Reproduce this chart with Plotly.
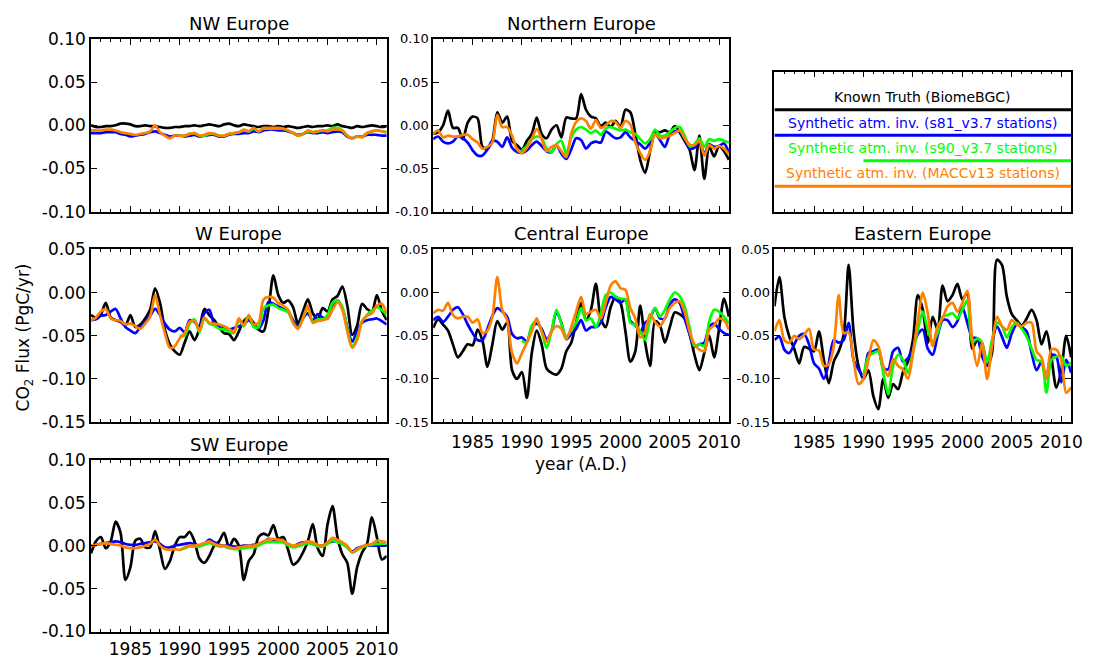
import plotly.graph_objects as go

# Half-yearly time axis shared by every region (years A.D.)
YEARS = [1981.0 + 0.5 * i for i in range(61)]

X_RANGE = [1981, 2011]
X_TICKS = [1985, 1990, 1995, 2000, 2005, 2010]
Y_TICKS_A = [-0.10, -0.05, 0.00, 0.05, 0.10]
Y_TICKS_B = [-0.15, -0.10, -0.05, 0.00, 0.05]

SERIES_NAMES = [
    "Known Truth (BiomeBGC)",
    "Synthetic atm. inv. (s81_v3.7 stations)",
    "Synthetic atm. inv. (s90_v3.7 stations)",
    "Synthetic atm. inv. (MACCv13 stations)",
]
SERIES_COLORS = ["#000000", "#0000ff", "#00ff00", "#ff8000"]
SERIES_START = [1981, 1981, 1990, 1981]
NO_DATA = [None] * 18  # s90 network only available from 1990 on

# ---------------- NW Europe ----------------
NW_TRUTH = [0.000, -0.002, -0.002, -0.001, -0.001, 0.000, 0.002, 0.002, 0.001, -0.001,
            -0.001, 0.000, -0.001, -0.001, -0.002, -0.003, -0.003, -0.002, -0.002, -0.001,
            -0.001, 0.000, -0.001, 0.000, 0.001, 0.000, -0.001, 0.001, 0.002, 0.000,
            -0.001, 0.001, 0.000, -0.001, -0.002, -0.001, -0.001, -0.002, -0.001, -0.002,
            -0.001, -0.002, -0.003, -0.002, -0.001, -0.002, -0.001, -0.001, 0.000, -0.001,
            0.001, -0.001, -0.002, -0.003, -0.001, -0.002, -0.001, 0.000, -0.001, -0.002,
            -0.001]
NW_S81 = [-0.009, -0.009, -0.009, -0.008, -0.008, -0.008, -0.010, -0.011, -0.013, -0.012,
          -0.011, -0.010, -0.008, -0.007, -0.009, -0.011, -0.013, -0.012, -0.012, -0.013,
          -0.012, -0.011, -0.013, -0.012, -0.011, -0.011, -0.013, -0.013, -0.011, -0.010,
          -0.010, -0.009, -0.009, -0.007, -0.008, -0.006, -0.005, -0.005, -0.006, -0.006,
          -0.007, -0.009, -0.011, -0.010, -0.008, -0.009, -0.009, -0.008, -0.009, -0.008,
          -0.007, -0.008, -0.013, -0.015, -0.013, -0.013, -0.011, -0.011, -0.011, -0.012,
          -0.012]
NW_S90 = NO_DATA + [
    -0.012, -0.012,
    -0.010, -0.009, -0.012, -0.012, -0.010, -0.010, -0.012, -0.012, -0.010, -0.009,
    -0.008, -0.006, -0.007, -0.004, -0.007, -0.004, -0.004, -0.004, -0.004, -0.004,
    -0.006, -0.009, -0.012, -0.010, -0.007, -0.008, -0.007, -0.006, -0.006, -0.003,
    -0.003, -0.006, -0.012, -0.015, -0.013, -0.013, -0.009, -0.007, -0.006, -0.007,
    -0.008]
NW_MACC = [-0.006, -0.006, -0.006, -0.005, -0.005, -0.006, -0.008, -0.009, -0.010, -0.011,
           -0.010, -0.009, -0.007, 0.000, -0.008, -0.012, -0.015, -0.012, -0.012, -0.012,
           -0.010, -0.009, -0.012, -0.011, -0.009, -0.010, -0.012, -0.012, -0.010, -0.009,
           -0.008, -0.005, -0.007, -0.003, -0.007, -0.003, -0.003, -0.003, -0.003, -0.004,
           -0.006, -0.009, -0.012, -0.010, -0.006, -0.008, -0.007, -0.006, -0.007, -0.005,
           -0.005, -0.006, -0.012, -0.015, -0.013, -0.014, -0.009, -0.007, -0.006, -0.007,
           -0.008]

# ---------------- Northern Europe ----------------
N_TRUTH = [-0.010, -0.008, 0.000, 0.017, -0.003, -0.003, -0.016, 0.003, 0.010, 0.008,
           -0.025, -0.027, -0.018, 0.015, 0.003, 0.010, -0.018, -0.023, -0.028, -0.018,
           -0.010, 0.009, -0.010, -0.015, -0.005, 0.000, -0.014, 0.009, 0.008, 0.008,
           0.036, 0.018, 0.010, 0.008, -0.001, 0.003, -0.002, 0.005, -0.002, 0.018,
           0.015, -0.010, -0.040, -0.055, -0.030, -0.008, -0.008, -0.006, -0.008, -0.001,
           -0.008, -0.018, -0.028, -0.052, -0.012, -0.062, -0.025, -0.036, -0.024, -0.030,
           -0.040]
N_S81 = [-0.016, -0.013, -0.019, -0.021, -0.019, -0.013, -0.015, -0.020, -0.029, -0.035,
         -0.035, -0.028, -0.018, -0.019, -0.025, -0.014, -0.026, -0.031, -0.032, -0.029,
         -0.023, -0.019, -0.024, -0.030, -0.031, -0.023, -0.033, -0.039, -0.028, -0.015,
         -0.017, -0.027, -0.021, -0.019, -0.020, -0.007, -0.011, -0.015, -0.014, -0.008,
         -0.014, -0.018, -0.022, -0.027, -0.020, -0.010, -0.017, -0.025, -0.011, -0.007,
         -0.007, -0.015, -0.027, -0.026, -0.020, -0.033, -0.022, -0.025, -0.024, -0.021,
         -0.032]
N_S90 = NO_DATA + [
    -0.029, -0.024,
    -0.016, -0.013, -0.015, -0.027, -0.031, -0.022, -0.018, -0.033, -0.014, -0.005,
    -0.002, -0.005, -0.009, -0.006, -0.011, -0.004, -0.002, -0.004, -0.006, -0.005,
    -0.008, -0.010, -0.016, -0.021, -0.016, -0.005, -0.012, -0.012, -0.008, -0.003,
    -0.002, -0.012, -0.024, -0.022, -0.015, -0.025, -0.016, -0.018, -0.016, -0.018,
    -0.020]
N_MACC = [-0.010, -0.006, -0.014, -0.012, -0.013, -0.013, -0.011, -0.011, -0.016, -0.020,
          -0.027, -0.025, -0.020, 0.012, -0.002, -0.002, -0.012, -0.028, -0.032, -0.026,
          -0.016, -0.004, -0.016, -0.030, -0.025, -0.023, -0.030, -0.037, -0.010, 0.004,
          0.008, 0.005, -0.004, 0.006, -0.003, 0.000, 0.005, 0.004, -0.003, 0.005,
          0.001, -0.020, -0.032, -0.040, -0.030, -0.010, -0.015, -0.014, -0.012, -0.009,
          -0.006, -0.015, -0.022, -0.023, -0.018, -0.035, -0.023, -0.027, -0.024, -0.027,
          -0.034]

# ---------------- W Europe ----------------
W_TRUTH = [-0.026, -0.029, -0.025, -0.012, -0.029, -0.032, -0.034, -0.038, -0.026, -0.040,
           -0.037, -0.030, -0.020, 0.005, -0.012, -0.043, -0.060, -0.068, -0.072, -0.058,
           -0.045, -0.055, -0.042, -0.019, -0.026, -0.032, -0.040, -0.047, -0.048, -0.055,
           -0.045, -0.033, -0.029, -0.035, -0.043, -0.045, -0.020, 0.020, -0.003, -0.012,
           -0.009, -0.017, -0.036, -0.022, -0.008, -0.024, -0.031, -0.018, -0.022, -0.008,
           -0.004, 0.007, -0.015, -0.049, -0.038, -0.013, -0.019, -0.022, -0.003, -0.021,
           -0.032]
W_S81 = [-0.032, -0.031, -0.027, -0.026, -0.022, -0.019, -0.030, -0.040, -0.044, -0.047,
         -0.040, -0.034, -0.027, -0.019, -0.026, -0.036, -0.043, -0.045, -0.041, -0.046,
         -0.032, -0.034, -0.040, -0.024, -0.020, -0.036, -0.038, -0.040, -0.043, -0.041,
         -0.039, -0.037, -0.032, -0.038, -0.042, -0.032, -0.011, -0.013, -0.016, -0.019,
         -0.022, -0.032, -0.039, -0.030, -0.024, -0.033, -0.025, -0.029, -0.030, -0.018,
         -0.009, -0.018, -0.040, -0.057, -0.044, -0.035, -0.032, -0.031, -0.030, -0.033,
         -0.037]
W_S90 = NO_DATA + [
    -0.050, -0.050,
    -0.036, -0.031, -0.046, -0.030, -0.036, -0.038, -0.042, -0.043, -0.045, -0.047,
    -0.032, -0.039, -0.027, -0.040, -0.040, -0.018, -0.015, -0.014, -0.018, -0.020,
    -0.023, -0.035, -0.041, -0.030, -0.018, -0.034, -0.031, -0.031, -0.026, -0.012,
    -0.009, -0.017, -0.042, -0.062, -0.052, -0.033, -0.026, -0.021, -0.017, -0.020,
    -0.026]
W_MACC = [-0.032, -0.029, -0.022, -0.019, -0.030, -0.032, -0.033, -0.037, -0.036, -0.039,
          -0.042, -0.036, -0.028, -0.003, -0.026, -0.047, -0.064, -0.062, -0.053, -0.047,
          -0.034, -0.033, -0.044, -0.029, -0.035, -0.036, -0.037, -0.039, -0.042, -0.046,
          -0.030, -0.038, -0.026, -0.037, -0.035, -0.008, -0.005, -0.006, -0.012, -0.015,
          -0.020, -0.035, -0.042, -0.030, -0.015, -0.035, -0.033, -0.032, -0.030, -0.020,
          -0.011, -0.020, -0.045, -0.064, -0.055, -0.033, -0.027, -0.024, -0.015, -0.013,
          -0.024]

# ---------------- Central Europe ----------------
C_TRUTH = [-0.041, -0.031, -0.037, -0.044, -0.060, -0.075, -0.068, -0.060, -0.061, -0.043,
           -0.056, -0.086, -0.060, -0.033, -0.043, -0.035, -0.090, -0.100, -0.092, -0.122,
           -0.070, -0.044, -0.060, -0.088, -0.093, -0.095, -0.088, -0.068, -0.058, -0.035,
           -0.012, -0.032, -0.020, 0.010, -0.030, -0.040, -0.017, -0.005, -0.012, -0.045,
           -0.080, -0.068, -0.015, -0.058, -0.085, -0.033, -0.038, -0.058, -0.040, -0.023,
           -0.025, -0.030, -0.047, -0.072, -0.090, -0.070, -0.050, -0.075, -0.042, -0.007,
           -0.028]
C_S81 = [-0.032, -0.028, -0.034, -0.028, -0.020, -0.017, -0.025, -0.037, -0.047, -0.055,
         -0.055, -0.042, -0.027, -0.018, -0.022, -0.028, -0.048, -0.053, -0.052, -0.057,
         -0.040, -0.036, -0.042, -0.054, -0.045, -0.022, -0.035, -0.054, -0.048, -0.042,
         -0.032, -0.044, -0.040, -0.040, -0.035, -0.017, -0.005, -0.008, -0.012, -0.008,
         -0.033, -0.038, -0.045, -0.035, -0.030, -0.018, -0.030, -0.030, -0.014, -0.008,
         -0.012, -0.030, -0.048, -0.063, -0.060, -0.058, -0.040, -0.036, -0.042, -0.047,
         -0.049]
C_S90 = NO_DATA + [
    -0.056, -0.058,
    -0.038, -0.033, -0.045, -0.064, -0.045, -0.020, -0.036, -0.051, -0.044, -0.035,
    -0.018, -0.032, -0.030, -0.040, -0.025, -0.003, 0.000, -0.005, -0.007, -0.008,
    -0.035, -0.038, -0.045, -0.055, -0.030, -0.018, -0.028, -0.020, -0.008, 0.000,
    -0.004, -0.016, -0.040, -0.062, -0.060, -0.062, -0.033, -0.020, -0.022, -0.028,
    -0.036]
C_MACC = [-0.024, -0.020, -0.021, -0.012, -0.026, -0.030, -0.028, -0.028, -0.035, -0.031,
          -0.047, -0.044, -0.028, 0.018, -0.020, -0.032, -0.070, -0.082, -0.070, -0.058,
          -0.045, -0.030, -0.045, -0.057, -0.045, -0.039, -0.042, -0.054, -0.040, -0.022,
          -0.005, -0.025, -0.022, -0.020, -0.030, -0.012, 0.008, 0.013, 0.005, 0.003,
          -0.018, -0.030, -0.052, -0.045, -0.025, -0.034, -0.039, -0.030, -0.018, -0.012,
          -0.010, -0.022, -0.045, -0.060, -0.066, -0.068, -0.043, -0.038, -0.030, -0.032,
          -0.043]

# ---------------- Eastern Europe ----------------
E_TRUTH = [-0.016, 0.018, -0.028, -0.051, -0.065, -0.082, -0.063, -0.065, -0.068, -0.045,
           -0.078, -0.105, -0.080, -0.068, -0.049, 0.032, -0.045, -0.085, -0.100, -0.090,
           -0.120, -0.135, -0.100, -0.122, -0.106, -0.112, -0.092, -0.080, -0.055, -0.003,
           -0.020, -0.058, -0.028, -0.043, 0.008, -0.010, -0.003, 0.010, -0.008, 0.000,
           -0.065, -0.055, -0.060, -0.085, -0.070, 0.038, 0.032, -0.005, -0.025, -0.032,
           -0.038, -0.030, -0.020, -0.032, -0.060, -0.045, -0.075, -0.110, -0.090, -0.050,
           -0.075]
E_S81 = [-0.055, -0.051, -0.066, -0.070, -0.060, -0.050, -0.048, -0.060, -0.082, -0.088,
         -0.100, -0.081, -0.055, -0.058, -0.055, -0.035, -0.078, -0.089, -0.097, -0.070,
         -0.068, -0.066, -0.087, -0.089, -0.068, -0.064, -0.080, -0.076, -0.064, -0.048,
         -0.043, -0.065, -0.072, -0.050, -0.032, -0.032, -0.040, -0.033, -0.017, -0.035,
         -0.052, -0.053, -0.074, -0.085, -0.058, -0.039, -0.051, -0.064, -0.047, -0.037,
         -0.040, -0.045, -0.070, -0.090, -0.080, -0.100, -0.072, -0.074, -0.104, -0.078,
         -0.093]
E_S90 = NO_DATA + [
    -0.097, -0.074,
    -0.070, -0.068, -0.093, -0.118, -0.085, -0.072, -0.078, -0.093, -0.070, -0.043,
    -0.022, -0.043, -0.057, -0.047, -0.028, -0.026, -0.024, -0.030, -0.020, -0.009,
    -0.058, -0.053, -0.058, -0.081, -0.055, -0.035, -0.039, -0.052, -0.040, -0.035,
    -0.042, -0.051, -0.065, -0.078, -0.080, -0.116, -0.078, -0.074, -0.074, -0.085,
    -0.081]
E_MACC = [-0.045, -0.032, -0.055, -0.058, -0.050, -0.054, -0.049, -0.042, -0.066, -0.067,
          -0.085, -0.083, -0.062, -0.003, -0.047, -0.046, -0.078, -0.106, -0.100, -0.078,
          -0.055, -0.062, -0.085, -0.097, -0.077, -0.085, -0.089, -0.100, -0.070, -0.032,
          0.000, -0.024, -0.062, -0.039, -0.030, -0.016, -0.012, -0.022, -0.012, 0.002,
          -0.055, -0.085, -0.058, -0.100, -0.062, -0.028, -0.039, -0.043, -0.032, -0.037,
          -0.039, -0.035, -0.035, -0.068, -0.075, -0.100, -0.066, -0.066, -0.078, -0.116,
          -0.110]

# ---------------- SW Europe ----------------
SW_TRUTH = [-0.009, 0.005, 0.010, -0.003, 0.005, 0.028, 0.015, -0.040, -0.025, 0.006,
            0.008, -0.002, -0.002, 0.017, -0.005, -0.027, -0.018, 0.000, 0.010, 0.010,
            0.016, 0.005, -0.015, -0.020, -0.012, 0.000, 0.005, 0.015, -0.002, 0.008,
            0.000, -0.040, -0.018, -0.010, 0.010, 0.014, 0.012, 0.024, 0.008, 0.010,
            -0.005, -0.022, -0.018, -0.008, 0.005, 0.025, -0.003, -0.012, 0.025, 0.046,
            0.010, -0.010, -0.020, -0.056, -0.025, -0.008, 0.002, 0.033, 0.010, -0.016,
            -0.012]
SW_S81 = [0.000, 0.001, 0.002, 0.003, 0.004, 0.005, 0.004, 0.002, 0.001, 0.001,
          0.002, 0.003, 0.004, 0.005, 0.002, -0.002, -0.002, 0.000, 0.001, 0.002,
          0.003, 0.002, 0.000, 0.002, 0.007, 0.004, 0.001, 0.000, 0.000, -0.001,
          -0.001, 0.000, 0.000, 0.001, 0.002, 0.004, 0.008, 0.007, 0.006, 0.004,
          0.002, -0.001, 0.002, 0.004, 0.004, 0.002, 0.000, 0.000, 0.003, 0.005,
          0.005, 0.002, -0.002, -0.007, -0.003, -0.001, 0.000, 0.000, 0.000, 0.000,
          0.000]
SW_S90 = NO_DATA + [
    -0.005, -0.003,
    -0.001, -0.001, -0.001, 0.001, 0.003, 0.001, -0.001, -0.001, -0.003, -0.004,
    -0.004, -0.003, -0.002, -0.002, 0.000, 0.003, 0.004, 0.004, 0.004, 0.004,
    0.000, -0.002, -0.001, 0.001, 0.003, 0.002, -0.001, -0.001, 0.002, 0.006,
    0.004, 0.002, -0.002, -0.008, -0.005, -0.002, 0.000, 0.001, 0.002, 0.002,
    0.001]
SW_MACC = [0.000, 0.001, 0.002, 0.003, 0.002, 0.001, 0.000, -0.002, -0.003, -0.003,
           -0.002, 0.000, 0.002, 0.007, 0.000, -0.004, -0.005, -0.004, -0.005, -0.002,
           0.000, 0.000, 0.001, 0.003, 0.005, 0.002, 0.000, 0.000, -0.002, -0.003,
           -0.002, -0.001, 0.000, 0.000, 0.002, 0.005, 0.007, 0.008, 0.007, 0.006,
           0.002, 0.000, 0.001, 0.003, 0.005, 0.004, 0.001, 0.000, 0.004, 0.009,
           0.007, 0.004, 0.000, -0.008, -0.004, -0.001, 0.001, 0.002, 0.006, 0.005,
           0.004]

# ---------------- page layout ----------------
W, H = 1098, 662
# Column and row edges in viewport pixels
COLS = [(92, 391), (438, 737), (783, 1083)]
ROWS = [(37, 211), (249, 423), (461, 634)]
LEGEND_TOP = 70
# The viewer shows the figure's height over rows 7.85 .. 654.6 of the window;
# vertical viewport positions are mapped back to figure pixels with this.
VIEW_TOP, VIEW_SCALE = 7.85, 0.977
FONT = "DejaVu Sans"


def fig_y(py):
    return (py - VIEW_TOP) / VIEW_SCALE


def xdom(c):
    return [COLS[c][0] / W, COLS[c][1] / W]


def ydom(top, bottom):
    return [max(0.0, 1 - fig_y(bottom) / H), min(1.0, 1 - fig_y(top) / H)]


def fmt(v):
    return "%.2f" % v if abs(v) > 1e-9 else "0.00"


PANELS = [
    dict(title="NW Europe", col=0, row=0, yticks=Y_TICKS_A, ysize=17, xlab=False, xpad=0,
         series=[NW_TRUTH, NW_S81, NW_S90, NW_MACC]),
    dict(title="Northern Europe", col=1, row=0, yticks=Y_TICKS_A, ysize=13, xlab=False, xpad=0,
         series=[N_TRUTH, N_S81, N_S90, N_MACC]),
    dict(title="W Europe", col=0, row=1, yticks=Y_TICKS_B, ysize=17, xlab=False, xpad=0,
         series=[W_TRUTH, W_S81, W_S90, W_MACC]),
    dict(title="Central Europe", col=1, row=1, yticks=Y_TICKS_B, ysize=13, xlab=True, xpad=4,
         series=[C_TRUTH, C_S81, C_S90, C_MACC]),
    dict(title="Eastern Europe", col=2, row=1, yticks=Y_TICKS_B, ysize=13, xlab=True, xpad=4,
         series=[E_TRUTH, E_S81, E_S90, E_MACC]),
    dict(title="SW Europe", col=0, row=2, yticks=Y_TICKS_A, ysize=17, xlab=True, xpad=1,
         series=[SW_TRUTH, SW_S81, SW_S90, SW_MACC]),
]

fig = go.Figure()
layout = {}
annotations = []

axis_common = dict(
    showline=True, linecolor="black", linewidth=1.5, mirror="ticks",
    ticks="inside", ticklen=6, tickwidth=1, tickcolor="black",
    showgrid=False, zeroline=False,
)
minor_x = dict(tick0=1981, dtick=1, ticks="inside", ticklen=3, tickwidth=1,
               tickcolor="black", showgrid=False)

for n, p in enumerate(PANELS, start=1):
    xa = "xaxis" if n == 1 else "xaxis%d" % n
    ya = "yaxis" if n == 1 else "yaxis%d" % n
    top, bottom = ROWS[p["row"]]
    layout[xa] = dict(
        axis_common, domain=xdom(p["col"]), range=X_RANGE, anchor="y%d" % n,
        tickmode="array", tickvals=X_TICKS, ticktext=[str(t) for t in X_TICKS],
        showticklabels=p["xlab"], tickfont=dict(size=17, color="black"),
        ticklabelstandoff=p["xpad"], minor=minor_x,
    )
    layout[ya] = dict(
        axis_common, domain=ydom(top, bottom),
        range=[p["yticks"][0], p["yticks"][-1]], anchor="x%d" % n,
        tickmode="array", tickvals=p["yticks"], ticktext=[fmt(v) for v in p["yticks"]],
        tickfont=dict(size=p["ysize"], color="black"), ticklabelstandoff=0,
    )
    for values, color in zip(p["series"], SERIES_COLORS):
        fig.add_trace(go.Scatter(
            x=YEARS, y=values, mode="lines", xaxis="x%d" % n, yaxis="y%d" % n,
            line=dict(color=color, width=2.7, shape="spline", smoothing=0.8),
            connectgaps=False, hoverinfo="skip", showlegend=False,
        ))
    c0, c1 = COLS[p["col"]]
    annotations.append(dict(
        text=p["title"], x=(c0 + c1) / 2 / W, y=1 - fig_y(top) / H,
        xref="paper", yref="paper",
        xanchor="center", yanchor="bottom", yshift=3, showarrow=False,
        font=dict(size=18, color="black", family=FONT),
    ))

# Legend box: an empty time axis holding one sample line per series
LEGEND_ROWS = [4, 3, 2, 1]
layout["xaxis7"] = dict(
    axis_common, domain=xdom(2), range=X_RANGE, anchor="y7",
    tickmode="array", tickvals=X_TICKS, ticktext=[str(t) for t in X_TICKS],
    showticklabels=False, minor=minor_x,
)
layout["yaxis7"] = dict(
    domain=ydom(LEGEND_TOP, ROWS[0][1]), range=[0, 5.5], anchor="x7",
    showline=True, linecolor="black", linewidth=1.5, mirror=True,
    ticks="", showticklabels=False, showgrid=False, zeroline=False,
)
for name, color, start, yrow in zip(SERIES_NAMES, SERIES_COLORS, SERIES_START, LEGEND_ROWS):
    fig.add_trace(go.Scatter(
        x=[start, X_RANGE[1]], y=[yrow, yrow], mode="lines", xaxis="x7", yaxis="y7",
        line=dict(color=color, width=3), hoverinfo="skip", showlegend=False,
    ))
    annotations.append(dict(
        text=name, x=sum(X_RANGE) / 2, y=yrow + 0.5, xref="x7", yref="y7",
        xanchor="center", yanchor="middle", showarrow=False,
        font=dict(size=14, color=color, family=FONT),
    ))

annotations.append(dict(
    text="year (A.D.)", x=(COLS[1][0] + COLS[1][1]) / 2 / W, y=1 - fig_y(465) / H,
    xref="paper", yref="paper", xanchor="center", yanchor="middle", showarrow=False,
    font=dict(size=17, color="black", family=FONT),
))
annotations.append(dict(
    text="CO<sub>2</sub> Flux (PgC/yr)", x=25 / W, y=1 - fig_y(338) / H,
    xref="paper", yref="paper", xanchor="center", yanchor="middle", textangle=-90,
    showarrow=False, font=dict(size=17, color="black", family=FONT),
))

fig.update_layout(
    width=W, height=H, autosize=False,
    margin=dict(l=0, r=0, t=0, b=0),
    paper_bgcolor="white", plot_bgcolor="white",
    font=dict(family=FONT, color="black"),
    showlegend=False, annotations=annotations, **layout,
)

fig.write_html("out.html")
